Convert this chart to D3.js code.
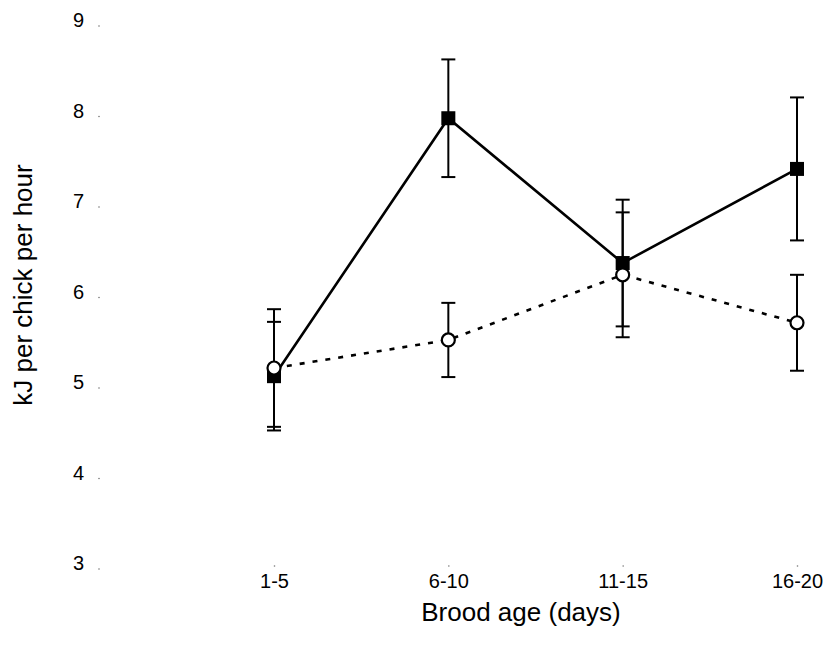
<!DOCTYPE html>
<html>
<head>
<meta charset="utf-8">
<script src="https://d3js.org/d3.v7.min.js"></script>
<style type="text/css">
  body { margin: 0; background: #fff; }
  text { font-family: Arial, "Liberation Sans", sans-serif; fill: #000; }
</style>
</head>
<body>
<svg id="chart" width="827" height="649"></svg>
<script>

// brood age classes
const ages = ['1-5', '6-10', '11-15', '16-20'];

// filled squares, solid line
const squareMean = [5.07, 7.92, 6.32, 7.36];
const squareErr = [0.60, 0.65, 0.70, 0.79];

// open circles, dashed line
const circleMean = [5.16, 5.47, 6.19, 5.66];
const circleErr = [0.65, 0.41, 0.69, 0.53];

const yTicks = [3, 4, 5, 6, 7, 8, 9];

const chart = d3.select('#chart');

const x = d3.scalePoint().domain(ages).range([274, 797]);
const y = d3.scaleLinear().domain([3, 9]).range([563.5, 20.5]);

const squares = ages.map((a, i) => ({ age: a, v: squareMean[i], e: squareErr[i] }));
const circles = ages.map((a, i) => ({ age: a, v: circleMean[i], e: circleErr[i] }));

// y axis: labels only, with a tiny dot for each tick
const yAxis = chart.append('g')
  .attr('transform', 'translate(84 0)')
  .call(d3.axisLeft(y).tickValues(yTicks).tickSize(0).tickPadding(0).tickFormat(d3.format('d')));
yAxis.select('.domain').remove();
yAxis.selectAll('text').attr('font-size', 20).attr('font-family', 'Arial, "Liberation Sans", sans-serif');
yAxis.selectAll('.tick').append('circle')
  .attr('cx', 15).attr('cy', 5).attr('r', 0.8).attr('fill', '#777');

// x axis
const xAxis = chart.append('g')
  .attr('transform', 'translate(0 566)')
  .call(d3.axisBottom(x).tickSize(0).tickPadding(8));
xAxis.select('.domain').remove();
xAxis.selectAll('text').attr('font-size', 20).attr('font-family', 'Arial, "Liberation Sans", sans-serif');
xAxis.selectAll('.tick').append('circle')
  .attr('cx', 0).attr('cy', 0).attr('r', 0.8).attr('fill', '#777');

// axis titles
chart.append('text')
  .attr('x', 521).attr('y', 621)
  .attr('text-anchor', 'middle')
  .attr('font-size', 26)
  .text('Brood age (days)');

chart.append('text')
  .attr('transform', 'translate(32 285) rotate(-90)')
  .attr('text-anchor', 'middle')
  .attr('font-size', 26)
  .text('kJ per chick per hour');

const line = d3.line()
  .x(d => x(d.age))
  .y(d => y(d.v));

function errorBars(data) {
  const g = chart.append('g').attr('stroke', '#000').attr('stroke-width', 2);
  g.selectAll('line.bar').data(data).enter().append('line')
    .attr('x1', d => x(d.age)).attr('x2', d => x(d.age))
    .attr('y1', d => y(d.v + d.e)).attr('y2', d => y(d.v - d.e));
  g.selectAll('line.top').data(data).enter().append('line')
    .attr('x1', d => x(d.age) - 7).attr('x2', d => x(d.age) + 7)
    .attr('y1', d => y(d.v + d.e)).attr('y2', d => y(d.v + d.e));
  g.selectAll('line.bottom').data(data).enter().append('line')
    .attr('x1', d => x(d.age) - 7).attr('x2', d => x(d.age) + 7)
    .attr('y1', d => y(d.v - d.e)).attr('y2', d => y(d.v - d.e));
}

errorBars(squares);
errorBars(circles);

chart.append('path')
  .datum(squares)
  .attr('fill', 'none')
  .attr('stroke', '#000')
  .attr('stroke-width', 2.6)
  .attr('d', line);

chart.append('path')
  .datum(circles)
  .attr('fill', 'none')
  .attr('stroke', '#000')
  .attr('stroke-width', 2.6)
  .attr('stroke-dasharray', '5 8')
  .attr('d', line);

chart.selectAll('rect.sq')
  .data(squares)
  .enter().append('rect')
  .attr('x', d => x(d.age) - 7)
  .attr('y', d => y(d.v) - 7)
  .attr('width', 14)
  .attr('height', 14)
  .attr('fill', '#000');

chart.selectAll('circle.ci')
  .data(circles)
  .enter().append('circle')
  .attr('cx', d => x(d.age))
  .attr('cy', d => y(d.v))
  .attr('r', 6.5)
  .attr('fill', '#fff')
  .attr('stroke', '#000')
  .attr('stroke-width', 2.2);

</script>
</body>
</html>
